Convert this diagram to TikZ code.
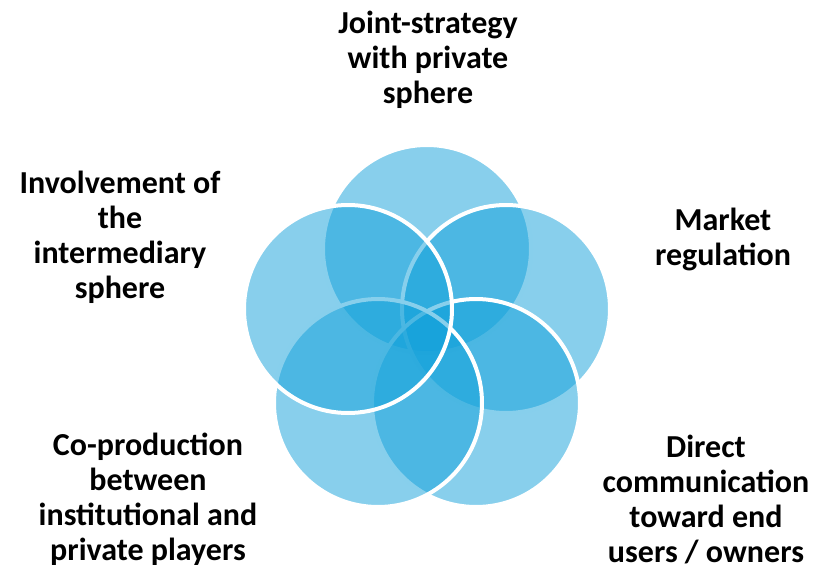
\documentclass[tikz,border=0pt]{standalone}
\usepackage{fontspec}
\setmainfont{Carlito}
\definecolor{vennblue}{RGB}{17,160,218}
\tikzset{
  petal/.style={draw=white,line width=4pt,fill=vennblue,fill opacity=0.5,circle,minimum size=208pt,inner sep=0pt},
  caption/.style={align=center,font=\fontsize{32}{35}\selectfont\bfseries}
}
\begin{document}
\begin{tikzpicture}[x=1pt,y=-1pt]
                \useasboundingbox (0,0) rectangle (815,565);
                %% circles
                \node[petal] (joint) at (427,249) {};
                \node[petal] (market) at (506,309) {};
                \node[petal] (direct) at (476,403) {};
                \node[petal] (coprod) at (378,403) {};
                \node[petal] (involve) at (348,309) {};
                %% labels
                \node[caption] (jointtxt) at (428,60) {Joint-strategy\\with private\\sphere};
                \node[caption] (markettxt) at (723,239) {Market\\regulation};
                \node[caption] (involvetxt) at (120,237) {Involvement of\\the\\intermediary\\sphere};
                \node[caption] (coprodtxt) at (148,499) {Co-production\\between\\institutional and\\private players};
                \node[caption] (directtxt) at (706,499) {Direct\\communication\\toward end\\users / owners};
            \end{tikzpicture}
\end{document}
